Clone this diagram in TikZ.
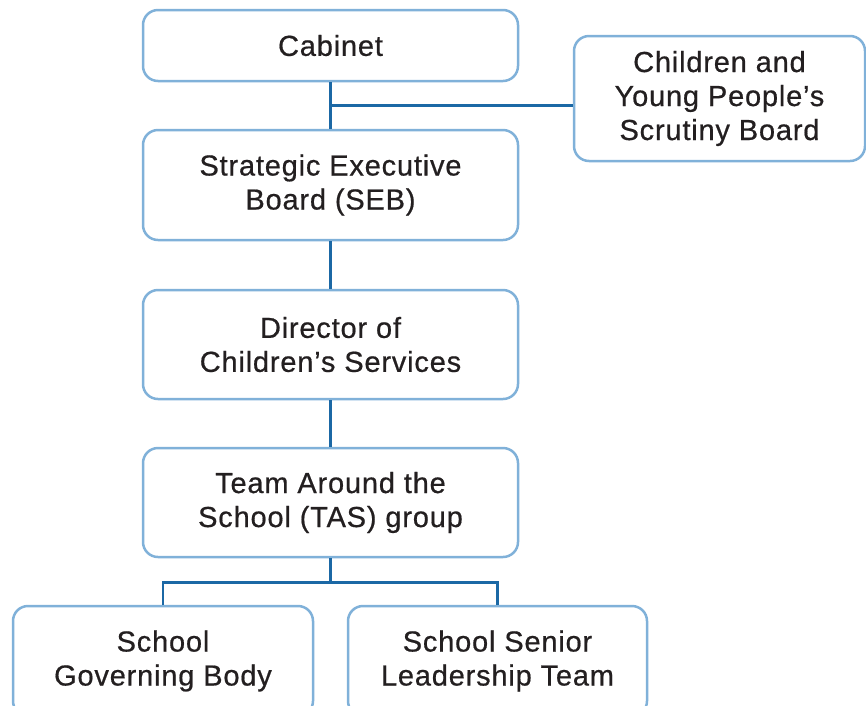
\documentclass[tikz,border=0pt]{standalone}
\usepackage{fontspec}
\setmainfont{Liberation Sans}[FakeBold=0.6, LetterSpace=2.8]
\usetikzlibrary{positioning}
\definecolor{boxblue}{HTML}{80B1D9}
\definecolor{linkblue}{HTML}{1B68A5}
\definecolor{textgrey}{HTML}{231F20}

\begin{document}
\begin{tikzpicture}[x=1pt, y=-1pt,
    every node/.style={font=\fontsize{29}{34}\selectfont, text=textgrey},
    orgbox/.style={draw=boxblue, line width=2.5pt, rounded corners=15pt, fill=white, align=center, inner sep=0pt},
    link/.style={draw=linkblue, line width=2.5pt}]
  \useasboundingbox (0,0) rectangle (866,705);

  % Draw the boxes of the main column
  \node[orgbox, minimum width=375pt, minimum height=71pt] (cabinet) at (330.5,45.5) {Cabinet};
  \node[orgbox, minimum width=375pt, minimum height=110pt] (seb) at (330.5,185) {Strategic Executive\\Board (SEB)};
  \node[orgbox, minimum width=375pt, minimum height=109pt] (director) at (330.5,344.5) {Director of\\Children’s Services};
  \node[orgbox, minimum width=375pt, minimum height=109pt] (tas) at (330.5,502.5) {Team Around the\\School (TAS) group};

  % Draw the side box and the two boxes at the bottom
  \node[orgbox, minimum width=291pt, minimum height=125pt] (scrutiny) at (719.5,98.5) {Children and\\Young People’s\\Scrutiny Board};
  \node[orgbox, minimum width=300pt, minimum height=110pt] (govbody) at (163,661) {School\\Governing Body};
  \node[orgbox, minimum width=299pt, minimum height=110pt] (senior) at (497.5,661) {School Senior\\Leadership Team};

  % Draw the connectors
  \draw[link] (cabinet) -- (seb);
  \path (cabinet.south) ++(0,23) coordinate (branch);
  \draw[link] (branch) -- (branch -| scrutiny.west);
  \draw[link] (seb) -- (director);
  \draw[link] (director) -- (tas);
  \path (tas.south) ++(0,24) coordinate (split);
  \draw[link] (tas.south) -- (split);
  \draw[link] (govbody.north) |- (split) -| (senior.north);
\end{tikzpicture}
\end{document}
